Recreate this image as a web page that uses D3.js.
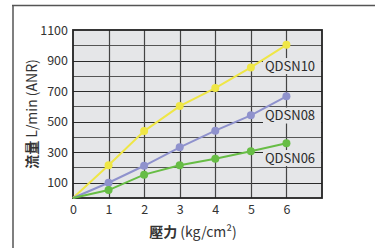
<!DOCTYPE html>
<html><head><meta charset="utf-8">
<script src="https://cdn.jsdelivr.net/npm/d3@7/dist/d3.min.js"></script>
<style>body{margin:0;background:#fff;}svg{display:block;font-family:"Noto Sans CJK TC","Noto Sans",sans-serif;}</style>
</head><body><svg id="c" width="375" height="248"></svg>
<script>
const pressure = [0, 1, 2, 3, 4, 5, 6];
const qdsn10 = [0, 215, 438, 602, 720, 855, 1003];
const qdsn08 = [0, 100, 211, 332, 441, 541, 666];
const qdsn06 = [0, 52, 153, 214, 257, 306, 358];
const seriesNames = ["QDSN10", "QDSN08", "QDSN06"];
const seriesColors = ["#efe646", "#8f92cd", "#67bd45"];
const yTickLabels = [100, 300, 500, 700, 900, 1100];
const xTickLabels = [0, 1, 2, 3, 4, 5, 6];
const labelValues = [864, 540, 262];

const svg = d3.select("#c");
const L = 73, R = 322, T = 30, B = 198;
const x = d3.scaleLinear().domain([0, 7]).range([L, R]);
const y = d3.scaleLinear().domain([0, 1100]).range([B, T]);

// outer frame
svg.append("line").attr("x1", 12).attr("x2", 375).attr("y1", 5.5).attr("y2", 5.5).attr("stroke", "#555").attr("stroke-width", 1.5);
svg.append("line").attr("x1", 13).attr("x2", 13).attr("y1", 5).attr("y2", 248).attr("stroke", "#555").attr("stroke-width", 1.5);

svg.append("rect").attr("x", L).attr("y", T).attr("width", R - L).attr("height", B - T).attr("fill", "#e5e6e8");

// grid
const g = svg.append("g");
g.selectAll(".h").data(d3.range(100, 1100, 100)).join("line")
  .attr("x1", L).attr("x2", R).attr("y1", d => Math.round(y(d)) + 0.5).attr("y2", d => Math.round(y(d)) + 0.5)
  .attr("stroke", d => (d % 200 === 100) ? "#2a2a2a" : "#555").attr("stroke-width", 1.2);
g.selectAll(".v").data(d3.range(1, 7)).join("line")
  .attr("y1", T).attr("y2", B).attr("x1", d => Math.round(x(d)) + 0.5).attr("x2", d => Math.round(x(d)) + 0.5)
  .attr("stroke", "#444").attr("stroke-width", 1.2);

// series labels with background
const data = [qdsn10, qdsn08, qdsn06];
seriesNames.forEach((n, i) => {
  const cx = x(6.1), cy = y(labelValues[i]);
  svg.append("rect").attr("x", cx - 27).attr("y", cy - 8).attr("width", R - (cx - 27) - 1).attr("height", 16).attr("fill", "#e5e6e8");
  svg.append("text").attr("x", cx).attr("y", cy).attr("dy", "0.36em").attr("text-anchor", "middle")
    .attr("font-size", 13).attr("fill", "#2b2b2b").text(n);
});

svg.append("rect").attr("x", L).attr("y", T).attr("width", R - L).attr("height", B - T).attr("fill", "none").attr("stroke", "#222").attr("stroke-width", 1.8);

// lines
const line = d3.line().x((d, i) => x(pressure[i])).y(d => y(d));
data.forEach((s, i) => {
  svg.append("path").datum(s).attr("d", line).attr("fill", "none").attr("stroke", seriesColors[i]).attr("stroke-width", 2);
  svg.selectAll(null).data(s.slice(1)).join("circle")
    .attr("cx", (d, j) => x(pressure[j + 1])).attr("cy", d => y(d)).attr("r", 4).attr("fill", seriesColors[i]);
});

// axes tick labels
const xa = svg.append("g").attr("transform", `translate(0,${B})`)
  .call(d3.axisBottom(x).tickValues(xTickLabels).tickFormat(d3.format("d")).tickSize(0).tickPadding(7));
xa.select(".domain").remove();
const ya = svg.append("g").attr("transform", `translate(${L},0)`)
  .call(d3.axisLeft(y).tickValues(yTickLabels).tickFormat(d3.format("d")).tickSize(0).tickPadding(5));
ya.select(".domain").remove();
svg.selectAll(".tick text").attr("font-size", 12.5).attr("fill", "#333").attr("font-family", '"Noto Sans CJK TC","Noto Sans",sans-serif');

// axis titles
svg.append("text").attr("x", 193).attr("y", 232).attr("dy", "0.36em").attr("text-anchor", "middle").attr("font-size", 14).attr("fill", "#333")
  .html('<tspan font-weight="bold">壓力</tspan> (kg/cm²)');
svg.append("text").attr("transform", "translate(32,114) rotate(-90)").attr("dy", "0.36em").attr("text-anchor", "middle").attr("font-size", 14).attr("fill", "#333")
  .html('<tspan font-weight="bold">流量</tspan> L/min (ANR)');
</script></body></html>
